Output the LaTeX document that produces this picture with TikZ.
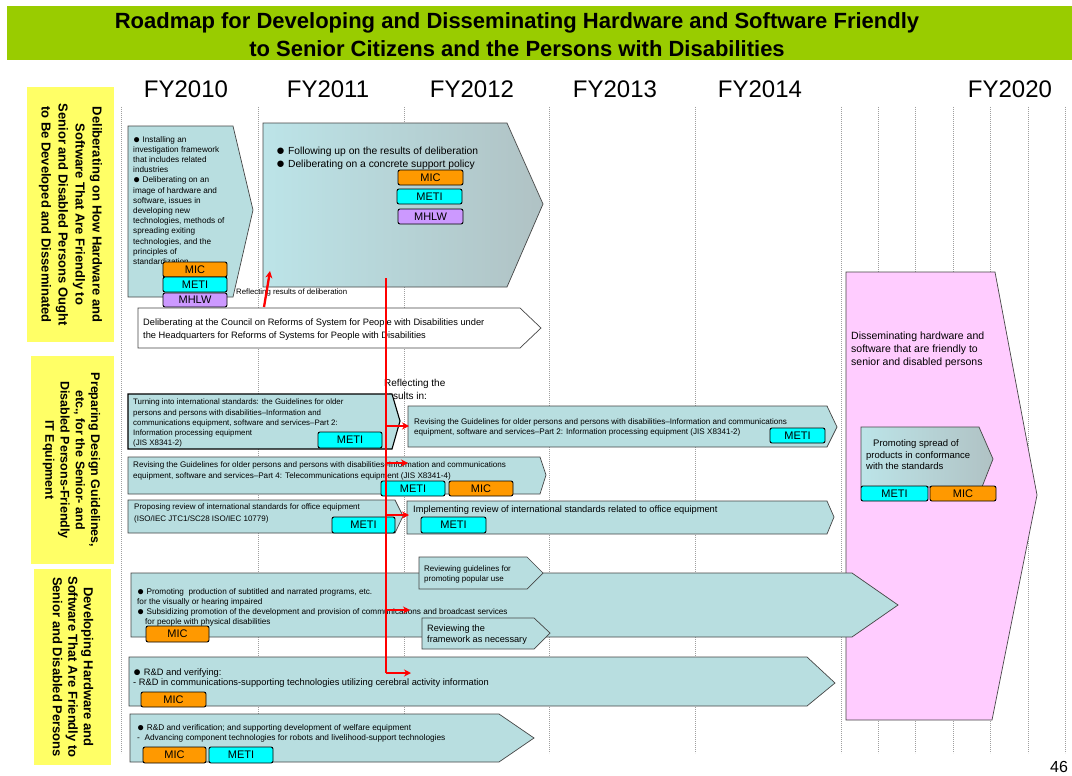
\documentclass[tikz,border=0pt]{standalone}
\usepackage{fontspec}
\usepackage{graphicx}
\setmainfont{Liberation Sans}
\usetikzlibrary{arrows.meta}
\definecolor{bannerg}{RGB}{153,204,0}
\definecolor{yel0}{RGB}{255,255,102}
\definecolor{teal0}{RGB}{184,222,224}
\definecolor{pink0}{RGB}{255,204,255}
\definecolor{micc}{RGB}{255,153,0}
\definecolor{metic}{RGB}{0,255,255}
\definecolor{mhlwc}{RGB}{204,153,255}
\definecolor{gradl}{RGB}{188,228,232}
\definecolor{gradr}{RGB}{176,194,196}
\definecolor{edge0}{RGB}{70,70,70}
\newcommand\fsz[2]{\fontsize{#1}{#2}\selectfont}
\newcommand\bul{\raisebox{-0.12em}{\scalebox{1.45}{●}}}
\newcommand\tg[7]{\node[tagst,fill=#2,minimum width=#5pt,minimum height=#6pt] (#1) at (#3,#4) {#7};}
\begin{document}
\begin{tikzpicture}[x=1pt,y=-1pt,
  chev/.style={fill=teal0,draw=edge0,line width=0.7pt},
  gchev/.style={left color=gradl,right color=gradr,draw=edge0,line width=0.7pt},
  tagst/.style={draw=black,line width=0.9pt,rounded corners=2pt,inner sep=0pt,font=\fsz{11}{12}},
  txt/.style={anchor=north west,inner sep=0pt,align=left},
  gridl/.style={gray!75,line width=0.7pt,dash pattern=on 1.2pt off 0.8pt},
  redl/.style={red,line width=2.3pt},
  redarr/.style={red,line width=2.3pt,-{Stealth[length=7pt,width=7pt]}},
  yelbox/.style={fill=yel0,draw=none,inner sep=0pt},
  ylab/.style={rotate=-90,align=center,inner sep=0pt},
]
\useasboundingbox (0,0) rectangle (1072,776);
\fill[white] (0,0) rectangle (1072,776);
% banner
\fill[bannerg] (7,6) rectangle (1072,60);
\node[font=\bfseries\fsz{22}{28},align=center] (title) at (517,35) {Roadmap for Developing and Disseminating Hardware and Software Friendly\\to Senior Citizens and the Persons with Disabilities};
% year labels
\foreach \xx/\yy [count=\i] in {186/FY2010,328/FY2011,472/FY2012,615/FY2013,760/FY2014,1010/FY2020}
  \node[font=\fsz{24}{28}] (fy\i) at (\xx,89) {\yy};
% grid lines
\foreach \xx in {121,258,404,549,695,841,878,915,953,990,1028,1065}
  \draw[gridl] (\xx,107) -- (\xx,753);
% left labels
\node[yelbox,minimum width=87pt,minimum height=255pt] (lab1) at (70.5,214.5) {};
\node[ylab,font=\bfseries\fsz{13}{17}] (lab1t) at (lab1.center) {Deliberating on How Hardware and\\Software That Are Friendly to\\Senior and Disabled Persons Ought\\to Be Developed and Disseminated};
\node[yelbox,minimum width=83pt,minimum height=208pt] (lab2) at (72.5,460) {};
\node[ylab,font=\bfseries\fsz{12.5}{15.3}] (lab2t) at (71.5,460) {Preparing Design Guidelines,\\etc., for the Senior- and\\Disabled Persons-Friendly\\IT Equipment};
\node[yelbox,minimum width=77pt,minimum height=196pt] (lab3) at (72.5,667) {};
\node[ylab,font=\bfseries\fsz{13}{15.5}] (lab3t) at (73,667) {Developing Hardware and\\Software That Are Friendly to\\Senior and Disabled Persons};
% pink dissemination box
\draw[fill=pink0,draw=edge0,line width=0.7pt] (846,272) -- (995,272) -- (1037,495) -- (992,720) -- (846,720) -- cycle;
\node[txt,font=\fsz{10.5}{13}] (pinkt) at (851,332) {Disseminating hardware and\\software that are friendly to\\senior and disabled persons};
\draw[gchev] (861,427) -- (979,427) -- (993,459) -- (982,487) -- (861,487) -- cycle;
\node[txt,font=\fsz{9.5}{11.5}] (promt) at (866,439.5) {\hspace{7pt}Promoting spread of\\products in conformance\\with the standards};
\tg{pmeti}{metic}{894.5}{493.5}{67}{15}{METI}
\tg{pmic}{micc}{963}{493.5}{66}{15}{MIC}
% row 1
\draw[chev] (128,126) -- (233,126) -- (253,210) -- (233,297) -- (128,297) -- cycle;
\node[txt,font=\fsz{8.2}{10.2}] (at) at (133,136) {\bul\ Installing an\\investigation framework\\that includes related\\industries\\\bul\ Deliberating on an\\image of hardware and\\software, issues in\\developing new\\technologies, methods of\\spreading exiting\\technologies, and the\\principles of\\standardization};
\tg{amic}{micc}{195}{269.5}{64}{15}{MIC}
\tg{ameti}{metic}{195}{284.5}{64}{15}{METI}
\tg{amhlw}{mhlwc}{195}{300}{64}{14}{MHLW}
\draw[gchev] (263,123) -- (507,123) -- (543,204) -- (507,287) -- (263,287) -- cycle;
\node[txt,font=\fsz{10.3}{13}] (bt) at (276,147) {\bul\ Following up on the results of deliberation\\\bul\ Deliberating on a concrete support policy};
\tg{bmic}{micc}{430.5}{177.5}{65}{15}{MIC}
\tg{bmeti}{metic}{429.5}{196.5}{65}{15}{METI}
\tg{bmhlw}{mhlwc}{430.5}{216.5}{65}{15}{MHLW}
\node[anchor=west,inner sep=0pt,font=\fsz{7.8}{9}] (reflt) at (236,292) {Reflecting results of deliberation};
\draw[fill=white,draw=edge0,line width=0.7pt] (138,308) -- (520,308) -- (541,328) -- (520,348) -- (138,348) -- cycle;
\node[txt,font=\fsz{9.3}{13}] (ct) at (143,318.5) {Deliberating at the Council on Reforms of System for People with Disabilities under\\the Headquarters for Reforms of Systems for People with Disabilities};
% row 2
\node[txt,font=\fsz{10}{13.5}] (refl2) at (384,379) {Reflecting the\\results in:};
\draw[chev,draw=black,line width=1.1pt] (128,394) -- (392,394) -- (400,421) -- (392,449) -- (128,449) -- cycle;
\node[txt,font=\fsz{7.9}{10.2}] (e1t) at (133,399) {Turning into international standards: the Guidelines for older\\persons and persons with disabilities–Information and\\communications equipment, software and services–Part 2:\\Information processing equipment\\(JIS X8341-2)};
\tg{e1meti}{metic}{350}{440}{64}{16}{METI}
\draw[chev] (408,406) -- (827,406) -- (837,427) -- (827,447) -- (408,447) -- cycle;
\node[txt,font=\fsz{8.1}{10.2}] (e2t) at (414,418) {Revising the Guidelines for older persons and persons with disabilities–Information and communications\\equipment, software and services–Part 2: Information processing equipment (JIS X8341-2)};
\tg{e2meti}{metic}{797.5}{435.5}{55}{15}{METI}
\draw[chev] (128,457) -- (540,457) -- (546,475) -- (540,494) -- (128,494) -- cycle;
\node[txt,font=\fsz{8.1}{11}] (e3t) at (133,461) {Revising the Guidelines for older persons and persons with disabilities–Information and communications\\equipment, software and services–Part 4: Telecommunications equipment (JIS X8341-4)};
\tg{e3meti}{metic}{413}{488.5}{64}{15}{METI}
\tg{e3mic}{micc}{481}{488.5}{64}{15}{MIC}
\draw[chev] (128,500) -- (395,500) -- (403,516) -- (395,533) -- (128,533) -- cycle;
\node[txt,font=\fsz{8}{12}] (e4t) at (134,504) {Proposing review of international standards for office equipment\\(ISO/IEC JTC1/SC28 ISO/IEC 10779)};
\tg{e4meti}{metic}{363.5}{525}{63}{16}{METI}
\draw[chev] (407,501) -- (827,501) -- (834,517) -- (827,534) -- (407,534) -- cycle;
\node[txt,font=\fsz{9.3}{11}] (e5t) at (413,505.5) {Implementing review of international standards related to office equipment};
\tg{e5meti}{metic}{453.5}{525}{65}{16}{METI}
% row 3
\draw[chev] (131,573) -- (852,573) -- (898,605) -- (852,637) -- (131,637) -- cycle;
\node[txt,font=\fsz{8.2}{10.2}] (f1t) at (137,588) {\bul\ Promoting\ \ production of subtitled and narrated programs, etc.\\for the visually or hearing impaired\\\bul\ Subsidizing promotion of the development and provision of communications and broadcast services\\\hspace{8pt}for people with physical disabilities};
\tg{f1mic}{micc}{177.5}{634}{63}{16}{MIC}
\draw[chev] (419,557) -- (527,557) -- (543,573) -- (527,589) -- (419,589) -- cycle;
\node[txt,font=\fsz{8}{10}] (f2t) at (424,565) {Reviewing guidelines for\\promoting popular use};
\draw[chev] (422,618) -- (534,618) -- (550,633) -- (534,649) -- (422,649) -- cycle;
\node[txt,font=\fsz{9.2}{11}] (f3t) at (427,624.5) {Reviewing the\\framework as necessary};
\draw[chev] (129,657) -- (807,657) -- (835,683) -- (807,706) -- (129,706) -- cycle;
\node[txt,font=\fsz{9.3}{10.5}] (f4t) at (133,668.5) {\bul\ R\&D and verifying:\\- R\&D in communications-supporting technologies utilizing cerebral activity information};
\tg{f4mic}{micc}{173.5}{699.5}{65}{15}{MIC}
\draw[chev] (130,714) -- (499,714) -- (534,738) -- (499,762) -- (130,762) -- cycle;
\node[txt,font=\fsz{8.3}{10}] (f5t) at (137,724) {\bul\ R\&D and verification; and supporting development of welfare equipment\\-\ \ Advancing component technologies for robots and livelihood-support technologies};
\tg{f5mic}{micc}{174.5}{755}{63}{16}{MIC}
\tg{f5meti}{metic}{241}{755}{64}{16}{METI}
% red connectors
\coordinate (s0) at (264,307);
\coordinate (s1) at (270,271);
\draw[redarr] (s0) -- (s1);
\coordinate (rtop) at (386,278);
\coordinate (rc) at (386,673);
\coordinate (f4in) at (411,673);
\draw[redl] (rtop) -- (rc);
\draw[redarr] (rc) -- (f4in);
\coordinate (j1) at (386,426); \coordinate (e2in) at (409,426);
\coordinate (j2) at (386,463); \coordinate (e3in) at (408,463);
\coordinate (j3) at (386,515); \coordinate (e5in) at (409,515);
\coordinate (j4) at (386,610); \coordinate (f1in) at (410,610);
\draw[redarr] (j1) -- (e2in);
\draw[redarr] (j2) -- (e3in);
\draw[redarr] (j3) -- (e5in);
\draw[redarr] (j4) -- (f1in);
% page number
\node[font=\fsz{16}{18}] (pg) at (1059,767) {46};
\end{tikzpicture}
\end{document}
